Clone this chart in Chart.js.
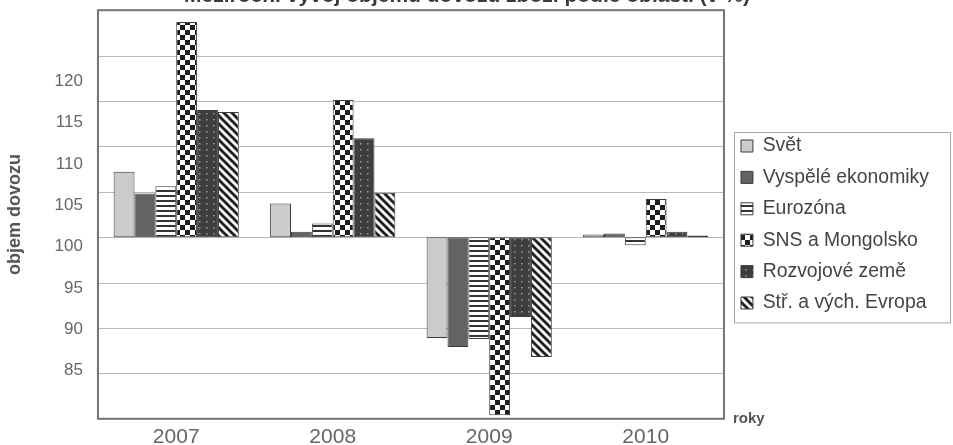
<!DOCTYPE html>
<html lang="cs">
<head>
<meta charset="utf-8">
<title>Vývoj objemu dovozu</title>
<script src="https://cdn.jsdelivr.net/npm/chart.js@4/dist/chart.umd.min.js"></script>
<style>
  html, body { margin: 0; padding: 0; background: #fff; overflow: hidden; }
  #wadah { width: 953px; height: 445px; overflow: hidden; position: relative; }
  /* judul sengaja kepotong di atas, jadi canvas digeser naik */
  #chartDovoz { position: absolute; left: 0; top: -15px; }
</style>
</head>
<body>
<div id="wadah">
  <canvas id="chartDovoz" width="953" height="471"></canvas>
</div>
<script>
// data tahun + nilai tiap kelompok negara (dasar 100)
const labelTahun = ['2007', '2008', '2009', '2010'];
const nilaiSvet = [107.2, 103.7, 88.9, 100.3];
const nilaiVyspele = [104.8, 100.6, 87.9, 100.4];
const nilaiEurozona = [105.6, 101.5, 88.8, 99.1];
const nilaiSns = [123.7, 115.1, 80.4, 104.2];
const nilaiRozvojove = [114.0, 110.9, 91.2, 100.6];
const nilaiEvropa = [113.8, 104.9, 86.8, 100.2];
const nilaiDasar = 100;
const labelSumbuY = [85, 90, 95, 100, 105, 110, 115, 120];

document.addEventListener('DOMContentLoaded', () => {
  if (typeof Chart === 'undefined') return;
  Chart.defaults.font.family = "'Liberation Sans', Arial, sans-serif";
  Chart.defaults.color = '#666';

  const warnaGaris = '#3c3c3c';
  const warnaGrid = '#b3bac2';

  // helper bikin pola isian bar (kotak, garis, titik)
  const kanvasUtama = document.getElementById('chartDovoz');
  const ctxUtama = kanvasUtama.getContext('2d');
  function bikinPola(lebar, tinggi, gambar) {
    const c = document.createElement('canvas');
    c.width = lebar; c.height = tinggi;
    const g = c.getContext('2d');
    gambar(g, lebar, tinggi);
    return ctxUtama.createPattern(c, 'repeat');
  }

  const polaGarisDatar = bikinPola(5, 5, (g, w, h) => {
    g.fillStyle = '#fff'; g.fillRect(0, 0, w, h);
    g.fillStyle = '#333'; g.fillRect(0, 0, w, 2);
  });
  const polaCatur = bikinPola(10, 10, (g, w, h) => {
    g.fillStyle = '#fff'; g.fillRect(0, 0, w, h);
    g.fillStyle = '#1e1e1e';
    g.fillRect(0, 0, 5, 5); g.fillRect(5, 5, 5, 5);
  });
  const polaTitik = bikinPola(7, 6, (g, w, h) => {
    g.fillStyle = '#3e3e3e'; g.fillRect(0, 0, w, h);
    g.fillStyle = '#9a9a9a'; g.fillRect(3, 2, 1.5, 1.5);
  });
  const polaMiring = bikinPola(8, 8, (g, w, h) => {
    g.fillStyle = '#fff'; g.fillRect(0, 0, w, h);
    g.strokeStyle = '#222'; g.lineWidth = 3;
    g.beginPath();
    for (const k of [-8, 0, 8]) { g.moveTo(k - 1, -1); g.lineTo(k + 9, 9); }
    g.stroke();
  });

  // bar ngambang mulai dari 100
  const dariDasar = arr => arr.map(v => [nilaiDasar, v]);
  function seri(label, nilai, isi) {
    return {
      label: label,
      data: dariDasar(nilai),
      backgroundColor: isi,
      borderColor: warnaGaris,
      borderWidth: 1,
      borderSkipped: false
    };
  }

  // plugin: geser legend dikit, garis bantu, bingkai, tulisan "roky"
  const pluginBingkai = {
    id: 'bingkai',
    afterLayout(chart) {
      const lg = chart.legend;
      lg.left += 5; lg.right += 5;
      lg.top += 4; lg.bottom += 4;
    },
    beforeDatasetsDraw(chart) {
      const { ctx, chartArea: a, scales } = chart;
      const sy = scales.y;
      ctx.save();
      ctx.strokeStyle = warnaGrid;
      ctx.lineWidth = 1;
      sy.ticks.forEach(t => {
        if (t.value <= sy.min || t.value >= sy.max) return;
        const py = Math.round(sy.getPixelForValue(t.value)) + 0.5;
        ctx.beginPath();
        ctx.moveTo(a.left, py);
        ctx.lineTo(a.right, py);
        ctx.stroke();
      });
      ctx.restore();
    },
    afterDraw(chart) {
      const { ctx, chartArea: a, legend } = chart;
      ctx.save();
      ctx.strokeStyle = '#747474';
      ctx.lineWidth = 2;
      ctx.strokeRect(a.left, a.top, a.right - a.left, a.bottom - a.top);

      const kotak = legend.legendHitBoxes;
      if (kotak && kotak.length) {
        const atas = kotak[0].top - 4;
        const akhir = kotak[kotak.length - 1];
        const bawah = akhir.top + akhir.height + 10;
        const kiri = kotak[0].left - 7;
        ctx.strokeStyle = '#a6a6a6';
        ctx.lineWidth = 1;
        ctx.strokeRect(Math.round(kiri) + 0.5, Math.round(atas) + 0.5, chart.width - 3 - kiri, bawah - atas);
      }

      ctx.fillStyle = '#555';
      ctx.font = "bold 15px 'Liberation Sans', Arial, sans-serif";
      ctx.textBaseline = 'alphabetic';
      ctx.fillText('roky', a.right + 9, a.bottom + 4);
      ctx.restore();
    }
  };

  new Chart(ctxUtama, {
    type: 'bar',
    data: {
      labels: labelTahun,
      datasets: [
        seri('Svět', nilaiSvet, '#c9cbcd'),
        seri('Vyspělé ekonomiky', nilaiVyspele, '#636363'),
        seri('Eurozóna', nilaiEurozona, polaGarisDatar),
        seri('SNS a Mongolsko', nilaiSns, polaCatur),
        seri('Rozvojové země', nilaiRozvojove, polaTitik),
        seri('Stř. a vých. Evropa', nilaiEvropa, polaMiring)
      ]
    },
    options: {
      responsive: false,
      animation: false,
      layout: { padding: { top: 0, right: 19, bottom: 0, left: 0 } },
      datasets: { bar: { categoryPercentage: 0.8, barPercentage: 1 } },
      plugins: {
        title: {
          display: true,
          text: 'Meziroční vývoj objemu dovozu zboží podle oblastí (v %)',
          color: '#3a3a3a',
          font: { size: 21, weight: 'bold', lineHeight: 1 },
          padding: { top: 0, bottom: 3 }
        },
        legend: {
          position: 'right',
          align: 'center',
          labels: {
            boxWidth: 12,
            boxHeight: 12,
            padding: 12,
            color: '#444',
            font: { size: 19.4 }
          }
        },
        tooltip: { enabled: false }
      },
      scales: {
        x: {
          grid: { display: false, drawTicks: false },
          border: { display: false },
          ticks: { font: { size: 21 }, color: '#666', padding: 6 }
        },
        // skala data, garis bantunya digambar sendiri di plugin
        y: {
          display: false,
          min: 80,
          max: 125,
          ticks: { stepSize: 5 }
        },
        // sumbu buat angka samping + judul
        yLabel: {
          position: 'left',
          min: 79.2,
          max: 128.56,
          grid: { display: false, drawTicks: false },
          border: { display: false },
          afterBuildTicks: s => { s.ticks = labelSumbuY.map(v => ({ value: v })); },
          ticks: { font: { size: 17 }, color: '#666', padding: 15 },
          title: {
            display: true,
            text: 'objem dovozu',
            color: '#555',
            font: { size: 18, weight: 'bold' },
            padding: { top: 4, bottom: 14 }
          }
        }
      }
    },
    plugins: [pluginBingkai]
  });
});
</script>
</body>
</html>
